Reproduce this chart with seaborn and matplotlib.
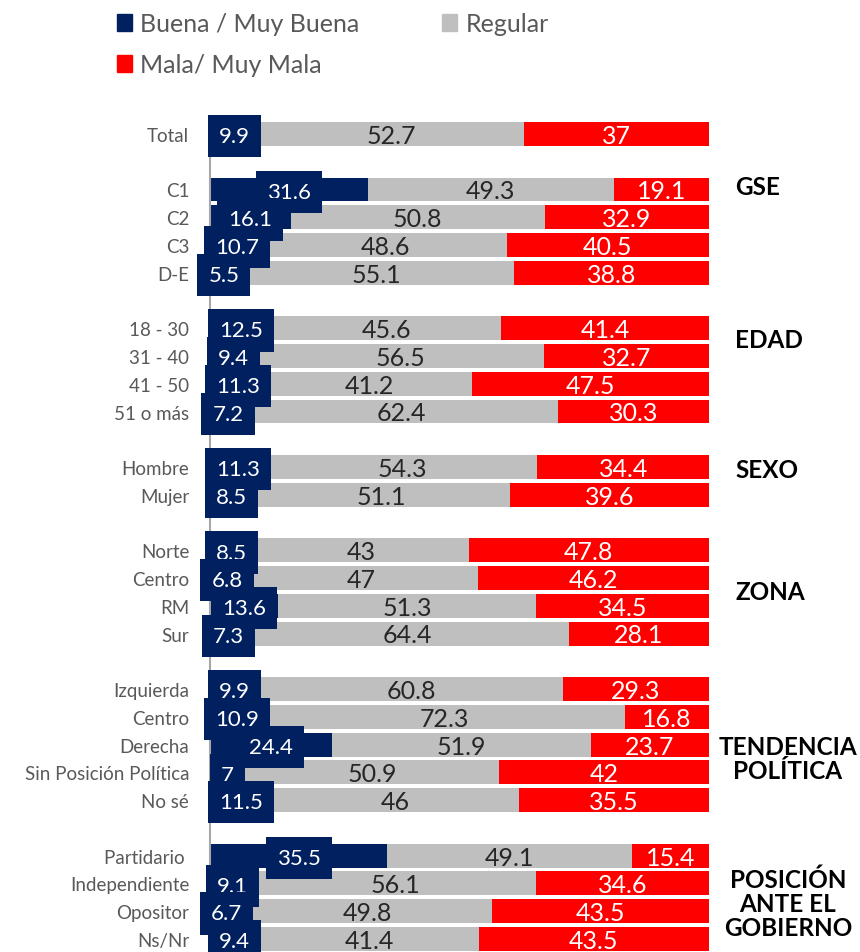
import numpy as np
import pandas as pd
import matplotlib
matplotlib.use("Agg")
import matplotlib.pyplot as plt
from matplotlib.patches import Patch
import seaborn as sns

# =========================
# data
# =========================
categorias = ["Total",
              "C1", "C2", "C3", "D-E",
              "18 - 30", "31 - 40", "41 - 50", "51 o más",
              "Hombre", "Mujer",
              "Norte", "Centro", "RM", "Sur",
              "Izquierda", "Centro", "Derecha", "Sin Posición Política", "No sé",
              "Partidario ", "Independiente", "Opositor", "Ns/Nr"]
# row of each category (blank rows between groups)
filas = [0, 2, 3, 4, 5, 7, 8, 9, 10, 12, 13, 15, 16, 17, 18,
         20, 21, 22, 23, 24, 26, 27, 28, 29]

buena = [9.9, 31.6, 16.1, 10.7, 5.5, 12.5, 9.4, 11.3, 7.2, 11.3, 8.5,
         8.5, 6.8, 13.6, 7.3, 9.9, 10.9, 24.4, 7, 11.5, 35.5, 9.1, 6.7, 9.4]
regular = [52.7, 49.3, 50.8, 48.6, 55.1, 45.6, 56.5, 41.2, 62.4, 54.3, 51.1,
           43, 47, 51.3, 64.4, 60.8, 72.3, 51.9, 50.9, 46, 49.1, 56.1, 49.8, 41.4]
mala = [37, 19.1, 32.9, 40.5, 38.8, 41.4, 32.7, 47.5, 30.3, 34.4, 39.6,
        47.8, 46.2, 34.5, 28.1, 29.3, 16.8, 23.7, 42, 35.5, 15.4, 34.6, 43.5, 43.5]

grupos = ["GSE", "EDAD", "SEXO", "ZONA", "TENDENCIA\nPOLÍTICA", "POSICIÓN\nANTE EL\nGOBIERNO"]
grupos_fila = [1.9, 7.4, 12.1, 16.5, 22.5, 27.7]

NAVY = "#002060"
GRIS = "#BFBFBF"
ROJO = "#FF0000"

# 100% stacked -> normalise each row
df = pd.DataFrame({"fila": filas, "buena": buena, "regular": regular, "mala": mala})
tot = df[["buena", "regular", "mala"]].sum(axis=1)
df["b"] = df["buena"] / tot * 100
df["r"] = df["regular"] / tot * 100
df["m"] = df["mala"] / tot * 100
df["cum_br"] = df["b"] + df["r"]
df["cum_all"] = df["cum_br"] + df["m"]

# =========================
# plot
# =========================
sns.set_style("white")
plt.rcParams["font.family"] = ["Lato", "DejaVu Sans"]

fig = plt.figure(figsize=(8.6, 9.53), dpi=100)
ax = fig.add_axes([210 / 860, 0, 499 / 860, (953 - 118) / 953])

for col, color in [("cum_all", ROJO), ("cum_br", GRIS), ("b", NAVY)]:
    sns.barplot(data=df, x=col, y="fila", orient="y", native_scale=True,
                color=color, saturation=1, width=0.86, errorbar=None,
                linewidth=0, ax=ax)

ax.set_xlim(0, 100)
ax.set_ylim(29.47, -0.61)
ax.set_yticks(filas)
ax.set_yticklabels(categorias, fontsize=13.5, color="#595959")
ax.tick_params(axis="y", length=0, pad=15)
ax.set_xticks([])
ax.set_xlabel("")
ax.set_ylabel("")
for s in ["top", "right", "bottom"]:
    ax.spines[s].set_visible(False)
ax.spines["left"].set_color("#A6A6A6")
ax.spines["left"].set_linewidth(1.5)

# value labels
for i, row in df.iterrows():
    y = row["fila"]
    ax.text(row["b"] / 2, y + 0.08, f"{row['buena']:g}", ha="center", va="center",
            color="white", fontsize=16, zorder=10 + i, clip_on=False,
            bbox=dict(boxstyle="square,pad=0.5", fc=NAVY, ec="none"))
    ax.text(row["b"] + row["r"] / 2, y + 0.05, f"{row['regular']:g}", ha="center",
            va="center", color="#262626", fontsize=18, zorder=5)
    ax.text(row["cum_br"] + row["m"] / 2, y + 0.05, f"{row['mala']:g}", ha="center",
            va="center", color="white", fontsize=18, zorder=5)

# group labels on the right
for g, yg in zip(grupos, grupos_fila):
    if "\n" in g:
        ax.text(115.8, yg, g, ha="center", va="center", fontsize=17.5,
                fontweight="bold", color="black", linespacing=1.05, clip_on=False)
    else:
        ax.text(105.3, yg, g, ha="left", va="center", fontsize=17.5,
                fontweight="bold", color="black", clip_on=False)

# legend
handles = [Patch(color=NAVY, label="Buena / Muy Buena"),
           Patch(color=ROJO, label="Mala/ Muy Mala"),
           Patch(color=GRIS, label="Regular")]
leg = fig.legend(handles=handles, ncol=2, loc="upper left",
                 bbox_to_anchor=(104 / 860, 1 - 1 / 953), frameon=False,
                 fontsize=18, handlelength=0.6, handleheight=0.65,
                 handletextpad=0.35, columnspacing=3.3, labelspacing=0.7,
                 borderpad=0)
for t in leg.get_texts():
    t.set_color("#595959")

fig.savefig("out.png", dpi=100)
